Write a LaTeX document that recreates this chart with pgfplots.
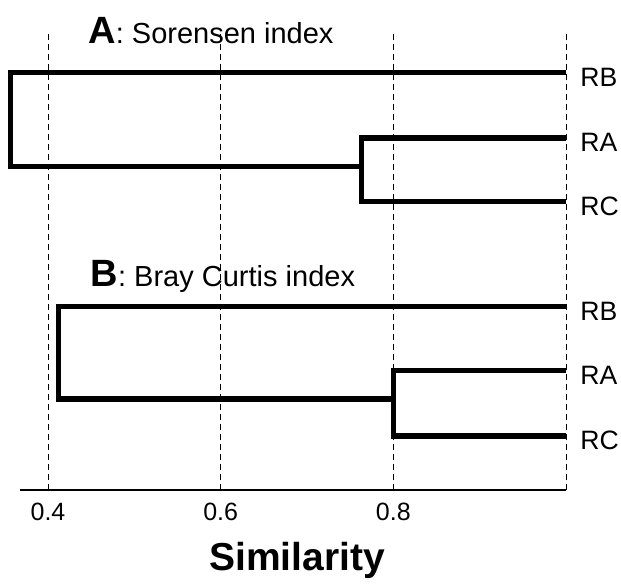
\documentclass[border=0pt]{standalone}
\usepackage{fontspec}
\setmainfont{Liberation Sans}
\usepackage{pgfplots}
\pgfplotsset{compat=1.18}
\begin{document}
\begin{tikzpicture}
\begin{axis}[
  scale only axis, width=273pt, height=229pt,
  xmin=0.3676, xmax=1.0, ymin=-490, ymax=-32,
  axis x line*=bottom, axis y line=none,
  xtick={0.4,0.6,0.8,1.0}, xticklabels={0.4,0.6,0.8,{}},
  major tick length=0pt,
  xmajorgrids, grid style={black, line width=0.5pt, dash pattern=on 3pt off 2pt},
  axis line style={line width=0.8pt, -},
  xticklabel style={font=\fontsize{12.5}{14}\selectfont, anchor=center, yshift=-11pt},
  /pgf/number format/assume math mode=true,
  xlabel={Similarity},
  xlabel style={font=\fontsize{19.5}{22}\selectfont\bfseries, at={(axis description cs:0.5,0)}, anchor=center, yshift=-35pt, xshift=2pt},
  clip=false,
]
% Panel A: Sorensen
\addplot[black, line width=2.6pt, mark=none] coordinates {(1.0,-72.7) (0.357,-72.7) (0.357,-166.7) (0.763,-166.7)};
\addplot[black, line width=2.6pt, mark=none] coordinates {(1.0,-138) (0.763,-138) (0.763,-201.7) (1.0,-201.7)};
% Panel B: Bray Curtis
\addplot[black, line width=2.6pt, mark=none] coordinates {(1.0,-306.7) (0.412,-306.7) (0.412,-399) (0.8,-399)};
\addplot[black, line width=2.6pt, mark=none] coordinates {(1.0,-370.7) (0.8,-370.7) (0.8,-436) (1.0,-436)};
% labels
\foreach \yy/\lab in {-72.7/RB,-138/RA,-201.7/RC,-306.7/RB,-370.7/RA,-436/RC}{
  \edef\tmp{\noexpand\node[anchor=base west, inner sep=0pt, xshift=7pt, yshift=-6.8pt, font=\noexpand\fontsize{13.3}{15}\noexpand\selectfont] at (axis cs:1.0,\yy) {\lab};}
  \tmp
}
\node[anchor=base west, inner sep=0pt] at (axis cs:0.4463,-43) {{\fontsize{19}{19}\selectfont\bfseries A}{\fontsize{14.5}{15}\selectfont: Sorensen index}};
\node[anchor=base west, inner sep=0pt] at (axis cs:0.449,-286) {{\fontsize{19}{19}\selectfont\bfseries B}{\fontsize{14.5}{15}\selectfont: Bray Curtis index}};
\coordinate (bbl) at (axis cs:0.3444,-577);
\coordinate (btr) at (axis cs:1.0637,0);
\end{axis}
\useasboundingbox (bbl) rectangle (btr);
\end{tikzpicture}
\end{document}
